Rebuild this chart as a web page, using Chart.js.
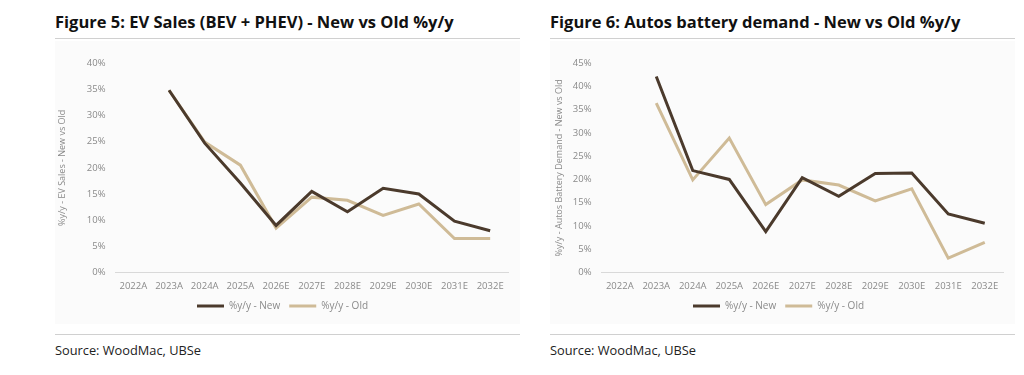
<!DOCTYPE html>
<html>
<head>
<meta charset="utf-8">
<script src="https://cdn.jsdelivr.net/npm/chart.js@4.4.1/dist/chart.umd.min.js"></script>
<style>
  body { margin: 0; background: #fff; font-family: "Open Sans", sans-serif; }
  .panel { position: absolute; top: 0; width: 465px; height: 375px; }
  .title { position: absolute; top: 10px; left: 0; font-size: 16.5px; font-weight: 700; color: #111; white-space: nowrap; }
  .rule { position: absolute; left: 0; right: 0; height: 1px; background: #d0d0d0; }
  .box { position: absolute; top: 41px; left: 0; width: 465px; height: 283px; background: #fbfbfb; }
  .source { position: absolute; top: 341px; left: 0; font-size: 12.8px; color: #222; }
</style>
</head>
<body>
<div class="panel" style="left:55px">
  <div class="title">Figure 5: EV Sales (BEV + PHEV) - New vs Old %y/y</div>
  <div class="rule" style="top:38px"></div>
  <div class="box"><canvas id="c1"></canvas></div>
  <div class="rule" style="top:334px"></div>
  <div class="source">Source: WoodMac, UBSe</div>
</div>
<div class="panel" style="left:550px">
  <div class="title">Figure 6: Autos battery demand - New vs Old %y/y</div>
  <div class="rule" style="top:38px"></div>
  <div class="box"><canvas id="c2"></canvas></div>
  <div class="rule" style="top:334px"></div>
  <div class="source">Source: WoodMac, UBSe</div>
</div>
<script>
const years = ['2022A', '2023A', '2024A', '2025A', '2026E', '2027E', '2028E', '2029E', '2030E', '2031E', '2032E'];

// Figure 5 - EV sales %y/y
const evNew = [null, 34.8, 24.7, 17.1, 9.0, 15.5, 11.6, 16.1, 15.0, 9.8, 8.0];
const evOld = [null, 34.8, 24.9, 20.5, 8.5, 14.4, 13.8, 10.9, 13.1, 6.5, 6.5];

// Figure 6 - autos battery demand %y/y
const batNew = [null, 42.1, 21.9, 20.0, 8.8, 20.4, 16.4, 21.3, 21.4, 12.6, 10.6];
const batOld = [null, 36.4, 19.9, 28.9, 14.6, 19.9, 18.8, 15.4, 18.0, 3.1, 6.5];

const newColor = '#4b3a2c';
const oldColor = '#cfbb97';
const grey = '#8a8a8a';

function makeChart(id, newData, oldData, yMax, yTitle, leftPad, titleGap) {
  const ctx = document.getElementById(id).getContext('2d');
  return new Chart(ctx, {
    type: 'line',
    data: {
      labels: years,
      datasets: [
        { label: '%y/y - New', data: newData, borderColor: newColor, backgroundColor: newColor,
          borderWidth: 3, pointRadius: 0, tension: 0 },
        { label: '%y/y - Old', data: oldData, borderColor: oldColor, backgroundColor: oldColor,
          borderWidth: 3, pointRadius: 0, tension: 0 }
      ]
    },
    options: {
      responsive: true,
      maintainAspectRatio: false,
      animation: false,
      layout: { padding: { top: 22, right: 12, left: leftPad, bottom: 3 } },
      plugins: {
        legend: {
          position: 'bottom',
          labels: {
            usePointStyle: true,
            pointStyle: 'line',
            pointStyleWidth: 27,
            boxHeight: 3,
            padding: 9,
            color: grey,
            font: { family: 'Open Sans', size: 10 }
          }
        },
        tooltip: { enabled: false }
      },
      scales: {
        x: {
          offset: true,
          grid: { display: false },
          border: { color: '#d9d9d9', width: 1 },
          ticks: { color: grey, padding: 0, maxRotation: 0, autoSkip: false, font: { family: 'Open Sans', size: 9.5 } }
        },
        y: {
          min: 0,
          max: yMax,
          grid: { display: false },
          border: { display: false },
          ticks: { stepSize: 5, color: grey, padding: 2, callback: v => v + '%', font: { family: 'Open Sans', size: 9.5 } },
          title: { display: true, text: yTitle, color: grey, padding: { top: 0, bottom: titleGap }, font: { family: 'Open Sans', size: 9 } }
        }
      }
    }
  });
}

makeChart('c1', evNew, evOld, 40, '%y/y - EV Sales - New vs Old', 2, 17);
makeChart('c2', batNew, batOld, 45, '%y/y - Autos Battery Demand - New vs Old', 4, 6);
</script>
</body>
</html>
